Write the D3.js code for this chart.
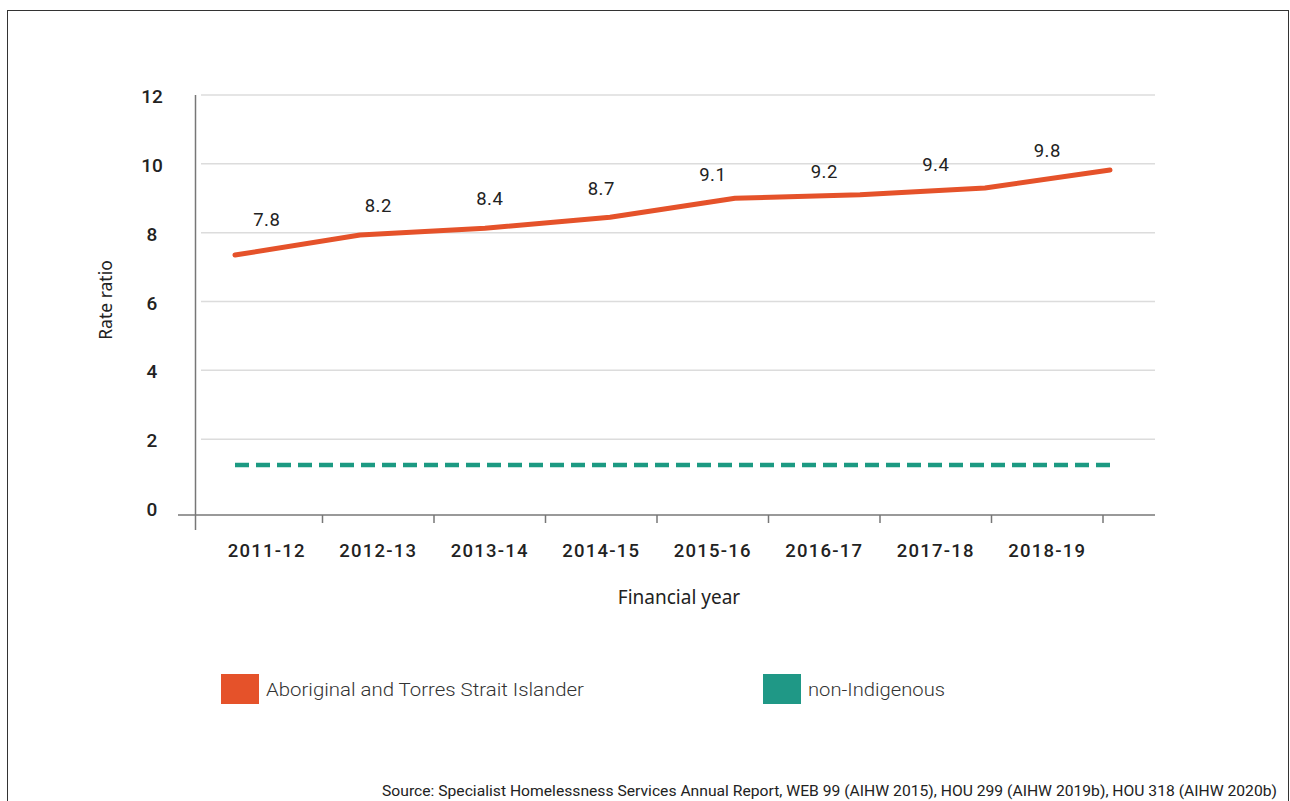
<!DOCTYPE html>
<html>
<head>
<meta charset="utf-8">
<script src="https://cdn.jsdelivr.net/npm/d3@7"></script>
<style>
  body { margin: 0; background: #fff; }
  text { fill: #222; }
</style>
</head>
<body>
<div id="chart"></div>
<script>
// values
var years = ["2011-12", "2012-13", "2013-14", "2014-15", "2015-16", "2016-17", "2017-18", "2018-19"];
var aboriginal = [7.35, 7.93, 8.13, 8.45, 9.0, 9.1, 9.3, 9.82];
var aboriginalLabels = [7.8, 8.2, 8.4, 8.7, 9.1, 9.2, 9.4, 9.8];
var nonIndigenous = [1.25, 1.25, 1.25, 1.25, 1.25, 1.25, 1.25, 1.25];
var yTicks = [0, 2, 4, 6, 8, 10, 12];

var orange = "#e5522a",
  teal = "#1c9a82";

var margin = {top: 95, right: 135, bottom: 293, left: 195},
  width = 1290 - margin.left - margin.right,
  height = 801 - margin.top - margin.bottom;

var svg = d3.select("#chart")
  .append("svg")
    .attr("width", 1290)
    .attr("height", 801);

// outer frame
svg.append("rect")
    .attr("x", 7.5)
    .attr("y", 10.5)
    .attr("width", 1281)
    .attr("height", 820)
    .attr("fill", "none")
    .attr("stroke", "#333")
    .attr("stroke-width", 1);

var chart = svg.append("g")
    .attr("transform", "translate(" + margin.left + "," + margin.top + ")");

var y = d3.scaleLinear()
  .domain([0, 12])
  .range([height, 0]);

var x = d3.scaleBand()
  .domain(years)
  .range([16, 908]);

var xLine = d3.scalePoint()
  .domain(years)
  .range([40, 915]);

// gridlines
chart.append("g")
    .attr("class", "grid")
  .selectAll("line")
  .data(yTicks.filter(function(d) { return d > 0; }))
  .enter().append("line")
    .attr("x1", 6)
    .attr("x2", width)
    .attr("y1", function(d) { return y(d); })
    .attr("y2", function(d) { return y(d); })
    .attr("stroke", "#dcdcdc")
    .attr("stroke-width", 1.5);

// y axis
var yAxis = chart.append("g")
    .call(d3.axisLeft(y).tickValues(yTicks).tickSize(0).tickPadding(0));
yAxis.select(".domain").remove();
yAxis.selectAll("text")
    .attr("x", -43)
    .attr("dy", "0.4em")
    .attr("text-anchor", "middle")
    .style("font-family", "Roboto, sans-serif")
    .style("font-size", "19px")
    .style("font-weight", "500")
    .style("fill", "#222");

chart.append("line")
    .attr("x1", 0.5).attr("x2", 0.5)
    .attr("y1", y(12)).attr("y2", height + 22)
    .attr("stroke", "#777")
    .attr("stroke-width", 1.5);

// x axis
var xAxisG = chart.append("g")
    .attr("transform", "translate(0," + (height + 7) + ")");

xAxisG.append("line")
    .attr("x1", -17).attr("x2", width)
    .attr("stroke", "#777")
    .attr("stroke-width", 1.5);

xAxisG.selectAll(".tick-mark")
  .data(years)
  .enter().append("line")
    .attr("class", "tick-mark")
    .attr("x1", function(d) { return x(d) + x.bandwidth(); })
    .attr("x2", function(d) { return x(d) + x.bandwidth(); })
    .attr("y1", 0)
    .attr("y2", 8)
    .attr("stroke", "#777")
    .attr("stroke-width", 1.5);

xAxisG.selectAll(".year")
  .data(years)
  .enter().append("text")
    .attr("class", "year")
    .attr("x", function(d) { return x(d) + x.bandwidth() / 2; })
    .attr("y", 36)
    .attr("dy", "0.35em")
    .attr("text-anchor", "middle")
    .style("font-family", "Roboto, sans-serif")
    .style("font-size", "18.5px")
    .style("font-weight", "500")
    .style("letter-spacing", "1.2px")
    .text(function(d) { return d; });

// axis titles
svg.append("text")
    .attr("transform", "translate(106,300) rotate(-90)")
    .attr("text-anchor", "middle")
    .attr("dy", "0.35em")
    .style("font-family", "'Noto Sans', sans-serif")
    .style("font-size", "17.5px")
    .text("Rate ratio");

svg.append("text")
    .attr("x", 679)
    .attr("y", 597)
    .attr("dy", "0.35em")
    .attr("text-anchor", "middle")
    .style("font-family", "'Noto Sans', sans-serif")
    .style("font-size", "19px")
    .text("Financial year");

// series
var line = d3.line()
  .x(function(d, i) { return xLine(years[i]); })
  .y(function(d) { return y(d); });

chart.append("path")
    .datum(nonIndigenous)
    .attr("d", line)
    .attr("fill", "none")
    .attr("stroke", teal)
    .attr("stroke-width", 4.5)
    .attr("stroke-dasharray", "14,7");

chart.append("path")
    .datum(aboriginal)
    .attr("d", line)
    .attr("fill", "none")
    .attr("stroke", orange)
    .attr("stroke-width", 5)
    .attr("stroke-linejoin", "round")
    .attr("stroke-linecap", "round");

chart.selectAll(".value")
  .data(aboriginalLabels)
  .enter().append("text")
    .attr("class", "value")
    .attr("x", function(d, i) { return x(years[i]) + x.bandwidth() / 2; })
    .attr("y", function(d) { return y(d) - 20; })
    .attr("dy", "0.35em")
    .attr("text-anchor", "middle")
    .style("font-family", "Roboto, sans-serif")
    .style("font-size", "18.5px")
    .style("letter-spacing", "0.5px")
    .text(function(d) { return d.toFixed(1); });

// legend
var legendItems = [
  {name: "Aboriginal and Torres Strait Islander", color: orange, x: 221, w: 318},
  {name: "non-Indigenous", color: "#1f9886", x: 763, w: 137}
];

var legend = svg.selectAll(".legend")
  .data(legendItems)
  .enter().append("g")
    .attr("class", "legend")
    .attr("transform", function(d) { return "translate(" + d.x + ",674)"; });

legend.append("rect")
    .attr("width", 38)
    .attr("height", 30)
    .attr("fill", function(d) { return d.color; });

legend.append("text")
    .attr("x", 45)
    .attr("y", 16)
    .attr("dy", "0.35em")
    .attr("textLength", function(d) { return d.w; })
    .attr("lengthAdjust", "spacingAndGlyphs")
    .style("font-family", "Roboto, sans-serif")
    .style("font-size", "18px")
    .style("font-weight", "300")
    .style("fill", "#333")
    .text(function(d) { return d.name; });

// source
svg.append("text")
    .attr("x", 382)
    .attr("y", 796)
    .attr("textLength", 895)
    .attr("lengthAdjust", "spacingAndGlyphs")
    .style("font-family", "Roboto, sans-serif")
    .style("font-size", "14px")
    .text("Source: Specialist Homelessness Services Annual Report, WEB 99 (AIHW 2015), HOU 299 (AIHW 2019b), HOU 318 (AIHW 2020b)");
</script>
</body>
</html>
